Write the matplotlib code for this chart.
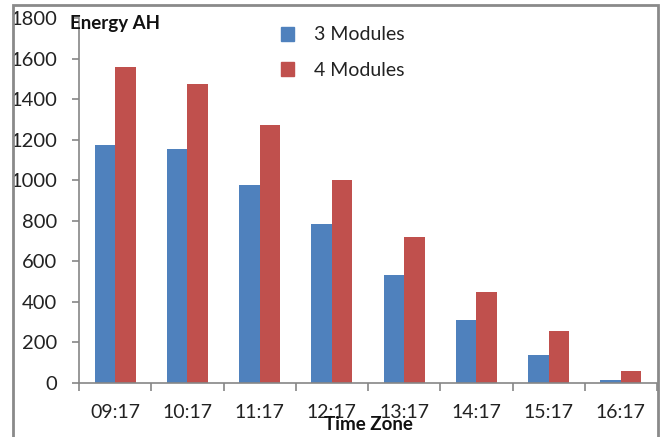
import matplotlib
matplotlib.use("Agg")
import matplotlib.pyplot as plt
from matplotlib.patches import Rectangle, Patch
import numpy as np

times = ["09:17", "10:17", "11:17", "12:17", "13:17", "14:17", "15:17", "16:17"]
modules_3 = [1175, 1155, 978, 787, 535, 312, 139, 17]
modules_4 = [1560, 1475, 1275, 1000, 719, 447, 259, 60]
series_labels = ["3 Modules", "4 Modules"]
y_ticks = [0, 200, 400, 600, 800, 1000, 1200, 1400, 1600, 1800]

BLUE = "#4F81BD"
RED = "#C0504D"
AXIS_GRAY = "#868686"

plt.rcParams["font.family"] = ["Lato", "DejaVu Sans"]

W, H = 664, 437
fig = plt.figure(figsize=(W / 100, H / 100), dpi=100)
ax = fig.add_axes([79 / W, 1 - 383 / H, (657 - 79) / W, (383 - 18.3) / H])

x = np.arange(len(times))
bw = 0.284
ax.bar(x - bw / 2, modules_3, width=bw, color=BLUE, label=series_labels[0])
ax.bar(x + bw / 2, modules_4, width=bw, color=RED, label=series_labels[1])

ax.set_xlim(-0.5, len(times) - 0.5)
ax.set_ylim(0, 1800)
ax.set_yticks(y_ticks)
ax.set_xticks(x)
ax.set_xticklabels(times)
ax.set_xticks(np.arange(len(times) + 1) - 0.5, minor=True)

for side in ("top", "right"):
    ax.spines[side].set_visible(False)
for side in ("left", "bottom"):
    ax.spines[side].set_color(AXIS_GRAY)
    ax.spines[side].set_linewidth(1.2)

ax.tick_params(axis="y", direction="out", length=5, width=1.2, color=AXIS_GRAY,
               labelsize=14.5, pad=11, labelcolor="#222222")
ax.tick_params(axis="x", which="major", length=0, labelsize=14, pad=15,
               labelcolor="#222222")
ax.tick_params(axis="x", which="minor", direction="out", length=6, width=1.2,
               color=AXIS_GRAY)

fig.text(70 / W, 1 - 24 / H, "Energy AH", fontsize=13.5, fontweight="bold",
         ha="left", va="center", color="#111111")
fig.text(368 / W, 1 - 424 / H, "Time Zone", fontsize=13.5, fontweight="bold",
         ha="center", va="center", color="#111111")

handles = [Patch(color=BLUE), Patch(color=RED)]
fig.legend(handles, series_labels, loc="upper left",
           bbox_to_anchor=(263 / W, 1 - 9 / H), frameon=False, fontsize=14,
           handlelength=0.7, handleheight=0.7, handletextpad=1.0,
           labelspacing=0.95, labelcolor="#222222")

# chart-area frame
fig.patches.append(Rectangle((13 / W, -0.05), (658 - 13) / W, 1.05 - 5 / H,
                             transform=fig.transFigure, fill=False,
                             edgecolor="#8a8a8a", linewidth=2))

fig.savefig("out.png", dpi=100)
